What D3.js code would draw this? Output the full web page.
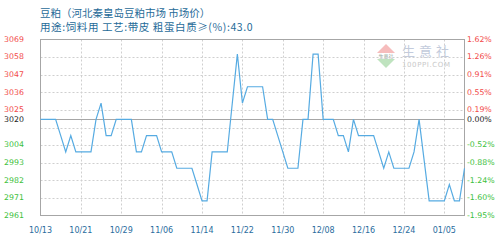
<!DOCTYPE html>
<html lang="zh">
<head>
<meta charset="UTF-8">
<title>豆粕</title>
<script src="https://cdn.jsdelivr.net/npm/d3@7/dist/d3.min.js"></script>
<style>
  body { margin: 0; background: #fff; }
  svg { display: block; }
</style>
</head>
<body>
<script>
// dates (one per price point)
var dates = [
  "10/13","10/14","10/15","10/16","10/17","10/18","10/19","10/20","10/21","10/22",
  "10/23","10/24","10/25","10/26","10/27","10/28","10/29","10/30","10/31","11/01",
  "11/02","11/03","11/04","11/05","11/06","11/07","11/08","11/09","11/10","11/11",
  "11/12","11/13","11/14","11/15","11/16","11/17","11/18","11/19","11/20","11/21",
  "11/22","11/23","11/24","11/25","11/26","11/27","11/28","11/29","11/30","12/01",
  "12/02","12/03","12/04","12/05","12/06","12/07","12/08","12/09","12/10","12/11",
  "12/12","12/13","12/14","12/15","12/16","12/17","12/18","12/19","12/20","12/21",
  "12/22","12/23","12/24","12/25","12/26","12/27","12/28","12/29","01/03","01/04",
  "01/05","01/06","01/07","01/08","01/09"
];
// price, yuan/ton
var prices = [
  3020,3020,3020,3020,3010,3000,3010,3000,3000,3000,
  3000,3020,3030,3010,3010,3020,3020,3020,3020,3000,
  3000,3010,3010,3010,3000,3000,3000,2990,2990,2990,
  2990,2980,2970,2970,3000,3000,3000,3000,3030,3060,
  3030,3040,3040,3040,3040,3020,3020,3010,3000,2990,
  2990,2990,3020,3020,3060,3060,3020,3020,3020,3010,
  3010,3000,3020,3010,3010,3010,3010,3000,2990,3000,
  2990,2990,2990,2990,3000,3020,2995,2970,2970,2970,
  2970,2980,2970,2970,2990
];
var basePrice = 3020;
var yMax = 3069, yMin = 2961;
var yTicks = [3069, 3058.2, 3047.4, 3036.6, 3025.8, 3015, 3004.2, 2993.4, 2982.6, 2971.8, 2961];
var leftLabels = ["3069","3058","3047","3036","3025","","3004","2993","2982","2971","2961"];
var rightLabels = ["1.62%","1.26%","0.91%","0.55%","0.19%","","-0.52%","-0.88%","-1.24%","-1.60%","-1.95%"];
var tickEvery = 8;

var title1 = "豆粕（河北秦皇岛豆粕市场 市场价）";
var title2 = "用途:饲料用 工艺:带皮 粗蛋白质≥(%):43.0";

var W = 504, H = 240;
var svg = d3.select("body").append("svg").attr("width", W).attr("height", H);

var x = d3.scaleLinear().domain([0, dates.length - 1]).range([40.5, 464.5]);
var y = d3.scaleLinear().domain([yMin, yMax]).range([215.5, 39.5]);

var cjk = "'Noto Sans CJK SC', sans-serif";
var num = "'DejaVu Sans', sans-serif";

// titles
svg.append("text").attr("x", 40).attr("y", 17)
  .attr("font-family", cjk).attr("font-size", 10.5).attr("fill", "#1f6b98")
  .text(title1);
svg.append("text").attr("x", 40).attr("y", 31)
  .attr("font-family", cjk).attr("font-size", 10.5).attr("letter-spacing", 0.6)
  .attr("fill", "#1f6b98")
  .text(title2);

// watermark
var wm = svg.append("g");
wm.append("path").attr("d", "M377,53 L386,44 L395,53 Z").attr("fill", "#f6bcbc");
wm.append("path").attr("d", "M377,59 L395,59 L386,68 Z").attr("fill", "#bfe3bf");
wm.append("text").attr("x", 386).attr("y", 58).attr("text-anchor", "middle")
  .attr("font-family", cjk).attr("font-size", 5).attr("fill", "#9aa8a0").text("生意社");
wm.append("text").attr("x", 402).attr("y", 56)
  .attr("font-family", cjk).attr("font-size", 13).attr("letter-spacing", 4)
  .attr("fill", "#c3cbdc").text("生意社");
wm.append("text").attr("x", 402).attr("y", 66.5)
  .attr("font-family", num).attr("font-size", 7).attr("letter-spacing", 0.6)
  .attr("fill", "#c9c9c9").text("100PPI.COM");

// grid
var grid = svg.append("g");
grid.selectAll("line.h").data(yTicks.slice(1, -1)).enter().append("line")
  .attr("x1", x(0)).attr("x2", x(dates.length - 1))
  .attr("y1", function (d) { return Math.round(y(d)) + 0.5; })
  .attr("y2", function (d) { return Math.round(y(d)) + 0.5; })
  .attr("stroke", "#cfcfcf").attr("stroke-dasharray", "2,2");

var tickIdx = d3.range(0, dates.length, tickEvery);
grid.selectAll("line.v").data(tickIdx.slice(1)).enter().append("line")
  .attr("x1", function (d) { return Math.round(x(d)) + 0.5; })
  .attr("x2", function (d) { return Math.round(x(d)) + 0.5; })
  .attr("y1", y(yMax)).attr("y2", y(yMin))
  .attr("stroke", "#cfcfcf").attr("stroke-dasharray", "2,2");

// base line
svg.append("line")
  .attr("x1", x(0)).attr("x2", x(dates.length - 1))
  .attr("y1", Math.round(y(basePrice)) + 0.5).attr("y2", Math.round(y(basePrice)) + 0.5)
  .attr("stroke", "#a6a6a6");

// frame
svg.append("rect")
  .attr("x", x(0)).attr("y", y(yMax))
  .attr("width", x(dates.length - 1) - x(0)).attr("height", y(yMin) - y(yMax))
  .attr("fill", "none").attr("stroke", "#a6a6a6");

// price line
var line = d3.line()
  .x(function (d, i) { return x(i); })
  .y(function (d) { return y(d); });
svg.append("path").datum(prices)
  .attr("d", line)
  .attr("fill", "none").attr("stroke", "#56abe2").attr("stroke-width", 1.2);

// y labels
function labelColor(v) {
  return v > basePrice ? "#f24a4a" : (v < basePrice ? "#3dbf3d" : "#222");
}
var yl = svg.append("g").attr("font-family", num).attr("font-size", 7.8);
yTicks.forEach(function (v, i) {
  if (!leftLabels[i]) return;
  yl.append("text").attr("x", 4).attr("y", y(v)).attr("dy", "0.3em")
    .attr("fill", labelColor(v)).text(leftLabels[i]);
  yl.append("text").attr("x", 467).attr("y", y(v)).attr("dy", "0.3em")
    .attr("fill", labelColor(v)).text(rightLabels[i]);
});
yl.append("text").attr("x", 4).attr("y", y(basePrice)).attr("dy", "0.3em")
  .attr("fill", labelColor(basePrice)).text(String(basePrice));
yl.append("text").attr("x", 467).attr("y", y(basePrice)).attr("dy", "0.3em")
  .attr("fill", labelColor(basePrice)).text("0.00%");

// x labels
svg.append("g").selectAll("text").data(tickIdx).enter().append("text")
  .attr("x", function (d) { return x(d); })
  .attr("y", 232.5)
  .attr("text-anchor", "middle")
  .attr("font-family", num).attr("font-size", 8)
  .attr("fill", "#2a6c9e")
  .text(function (d) { return dates[d]; });
</script>
</body>
</html>
